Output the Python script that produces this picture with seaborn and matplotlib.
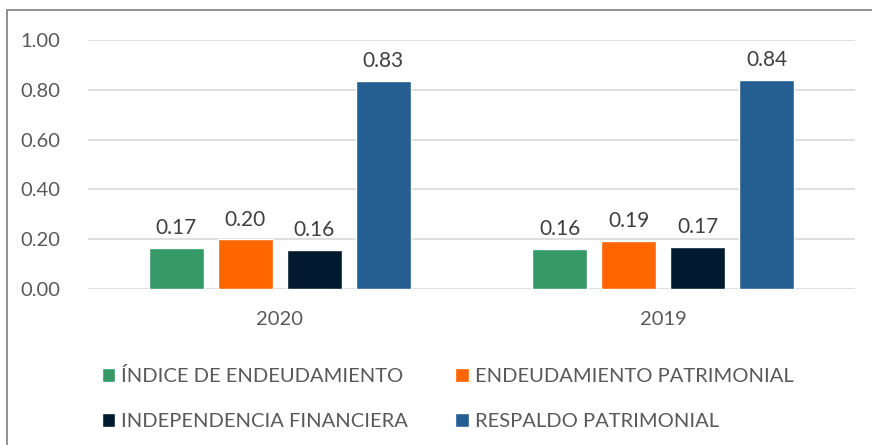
import matplotlib
matplotlib.use("Agg")
import matplotlib.pyplot as plt
import seaborn as sns
import pandas as pd
from matplotlib.patches import Rectangle

years = ["2020", "2019"]
series = ["ÍNDICE DE ENDEUDAMIENTO", "ENDEUDAMIENTO PATRIMONIAL",
          "INDEPENDENCIA FINANCIERA", "RESPALDO PATRIMONIAL"]
indice = [0.166, 0.161]
endeudamiento = [0.199, 0.193]
independencia = [0.157, 0.168]
respaldo = [0.835, 0.839]
colors = ["#359A68", "#FF6600", "#021A30", "#255E91"]
yticks = [0.0, 0.2, 0.4, 0.6, 0.8, 1.0]

rows = []
for name, vals in zip(series, [indice, endeudamiento, independencia, respaldo]):
    for y, v in zip(years, vals):
        rows.append({"Año": y, "Serie": name, "Valor": v})
df = pd.DataFrame(rows)

sns.set_style("white")
plt.rcParams['font.family'] = ['Lato', 'DejaVu Sans']
txt = "#595959"
fs = 14.5

fig = plt.figure(figsize=(8.72, 4.45), dpi=100)
ax = fig.add_axes([88/872, 156/445, (855-88)/872, (289-40)/445])

sns.barplot(data=df, x="Año", y="Valor", hue="Serie", order=years,
            hue_order=series, palette=colors, width=0.72, gap=0.2,
            saturation=1, ax=ax, legend=True)

ax.set_ylim(0, 1.0)
ax.set_yticks(yticks)
ax.set_yticklabels([f"{t:.2f}" for t in yticks], color=txt, fontsize=fs)
ax.tick_params(axis='x', colors=txt, labelsize=fs, pad=16, length=0)
ax.tick_params(axis='y', length=0, pad=20)
ax.set_xlabel("")
ax.set_ylabel("")
ax.grid(axis='y', color="#D9D9D9", linewidth=1.2)
ax.set_axisbelow(True)
for s in ax.spines.values():
    s.set_visible(False)

for c in ax.containers:
    ax.bar_label(c, labels=[f"{v:.2f}" for v in c.datavalues], padding=7,
                 color="#404040", fontsize=fs + 0.5)

h, l = ax.get_legend_handles_labels()
ax.get_legend().remove()
order = [0, 2, 1, 3]
leg = fig.legend([h[i] for i in order], [l[i] for i in order],
                 loc="upper left", bbox_to_anchor=(84/872, 1 - 349/445),
                 ncol=2, frameon=False, fontsize=fs, handlelength=0.65,
                 handleheight=0.65, handletextpad=0.3, columnspacing=2.35,
                 labelspacing=1.38, labelcolor=txt)

fig.patches.append(Rectangle((7/872, -0.1), 1.2, 1 - 10/445 + 0.1,
                             transform=fig.transFigure, fill=False,
                             edgecolor="#7F7F7F", linewidth=1.2))

fig.savefig("out.png", dpi=100)
